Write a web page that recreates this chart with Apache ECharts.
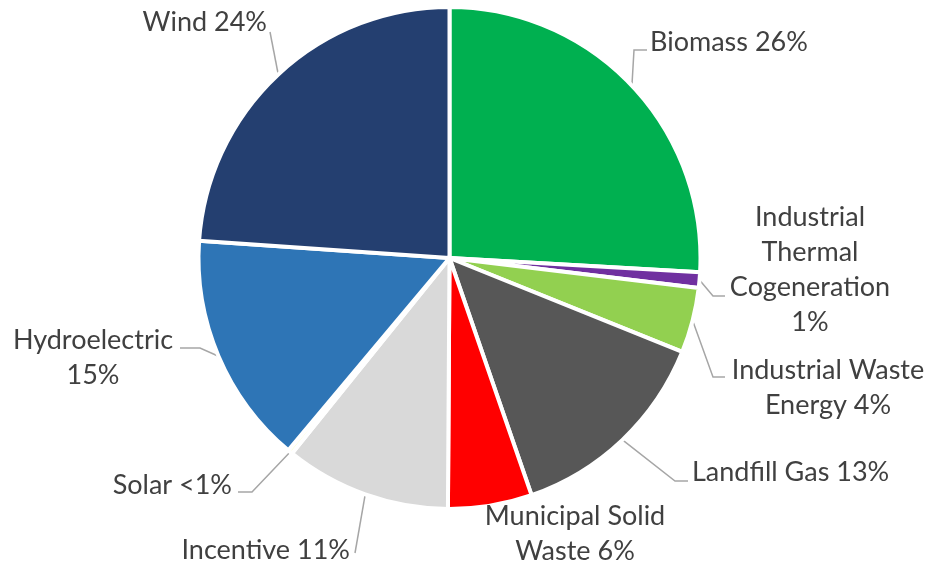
<!DOCTYPE html>
<html>
<head>
<meta charset="utf-8">
<script src="https://cdn.jsdelivr.net/npm/echarts@6/dist/echarts.min.js"></script>
<style>
html,body{margin:0;padding:0;background:#fff;}
#chart{width:930px;height:568px;}
</style>
</head>
<body>
<div id="chart"></div>
<script>
const categories = ['Biomass','Industrial Thermal Cogeneration','Industrial Waste Energy','Landfill Gas','Municipal Solid Waste','Incentive','Solar','Hydroelectric','Wind'];
const values = [25.9, 1.0, 4.2, 13.6, 5.4, 10.7, 0.3, 15.0, 23.9];
const labelTexts = ['Biomass 26%','Industrial\nThermal\nCogeneration\n1%','Industrial Waste\nEnergy 4%','Landfill Gas 13%','Municipal Solid\nWaste 6%','Incentive 11%','Solar <1%','Hydroelectric\n15%','Wind 24%'];
const colors = ['#00B050','#7030A0','#92D050','#575757','#FF0000','#D9D9D9','#FFFFCC','#2E75B6','#243F70'];

// label placement (layout only)
const labelPos = [
  {x:650, y:42, align:'left', line:[[634,50],[647,50]]},
  {x:810, y:270, align:'center', line:[[713,296],[725,296]]},
  {x:828, y:388, align:'center', line:[[713,377],[725,377]]},
  {x:692, y:472, align:'left', line:[[675,481],[688,481]]},
  {x:575, y:534, align:'center', line:null},
  {x:350, y:550, align:'right', line:[[355,553]]},
  {x:232, y:485, align:'right', line:[[252,492],[238,492]]},
  {x:93, y:358, align:'center', line:[[200,348],[180,348]]},
  {x:267, y:22, align:'right', line:[[270,32]]}
];

const chart = echarts.init(document.getElementById('chart'));
const data = categories.map((c, i) => ({
  name: c,
  value: values[i],
  itemStyle: {color: colors[i]},
  label: {formatter: labelTexts[i]},
  labelLine: {show: labelPos[i].line !== null}
}));

chart.setOption({
  animation: false,
  series: [{
    type: 'pie',
    center: [449.5, 258],
    radius: 251,
    startAngle: 90,
    clockwise: true,
    avoidLabelOverlap: false,
    emphasis: {disabled: true},
    itemStyle: {borderColor: '#ffffff', borderWidth: 4},
    label: {
      show: true,
      position: 'outside',
      color: '#404040',
      fontFamily: 'Lato',
      fontSize: 27,
      lineHeight: 35
    },
    labelLine: {
      show: true,
      length: 10,
      length2: 10,
      lineStyle: {color: '#A6A6A6', width: 1.5}
    },
    labelLayout: function (params) {
      const p = labelPos[params.dataIndex];
      const out = {x: p.x, y: p.y, align: p.align, verticalAlign: 'middle'};
      if (p.line && params.labelLinePoints) {
        out.labelLinePoints = [params.labelLinePoints[0]].concat(p.line);
      }
      return out;
    },
    data: data
  }]
});
</script>
</body>
</html>
